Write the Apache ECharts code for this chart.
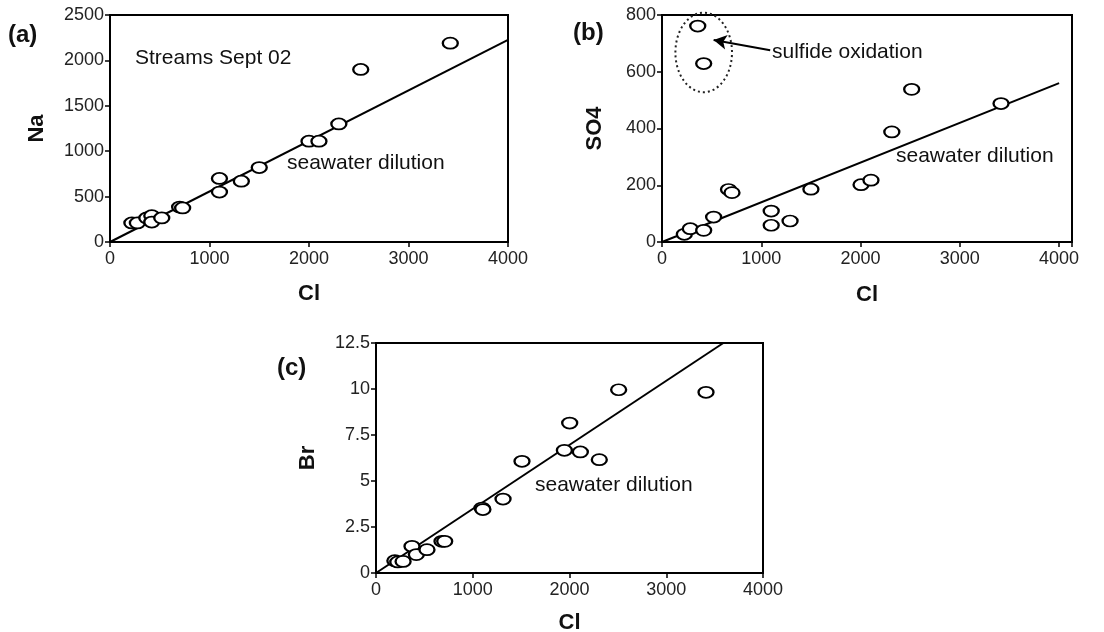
<!DOCTYPE html>
<html>
<head>
<meta charset="utf-8">
<script src="https://cdn.jsdelivr.net/npm/echarts@6/dist/echarts.min.js"></script>
<style>
  html, body { margin: 0; padding: 0; background: #fff; }
  #chart { width: 1104px; height: 632px; }
</style>
</head>
<body>
<div id="chart"></div>
<script>
// Cl vs Na (a), Cl vs SO4 (b), Cl vs Br (c) - streams Sept 02
var naPoints = [
  [220, 210], [275, 210], [370, 265], [420, 290], [420, 220], [520, 265],
  [700, 385], [730, 375], [1100, 700], [1100, 550], [1320, 670], [1500, 820],
  [2000, 1110], [2100, 1110], [2300, 1300], [2520, 1900], [3420, 2190]
];
var so4Points = [
  [225, 27], [285, 47], [420, 41], [520, 88], [670, 185], [705, 174],
  [1100, 109], [1100, 59], [1290, 74], [1500, 186], [2005, 202], [2105, 218],
  [2315, 388], [2515, 538], [3415, 488], [360, 761], [420, 629]
];
var brPoints = [
  [195, 0.67], [225, 0.6], [280, 0.63], [372, 1.45], [417, 1.0], [527, 1.27],
  [682, 1.72], [710, 1.72], [1096, 3.53], [1105, 3.45], [1313, 4.02], [1509, 6.07],
  [1947, 6.67], [2002, 8.15], [2112, 6.58], [2308, 6.16], [2508, 9.96], [3411, 9.82]
];
var seaNa = [[0, 0], [4000, 2225]];
var seaSO4 = [[0, 0], [4000, 560]];
var seaBr = [[0, 0], [3590, 12.5]];
var arrowTail = [1090, 676];
var arrowTip = [520, 712];
var oxidEllipse = { cl: 420, so4: 668, rCl: 285, rSO4: 140 };

var naTicks = [0, 2500, 500];
var so4Ticks = [0, 800, 200];
var brTicks = [0, 12.5, 2.5];

var font = "'Liberation Sans', Arial, sans-serif";

let chart = echarts.init(document.getElementById('chart'));

function xAx(idx, max, gap) {
  return {
    type: 'value', gridIndex: idx, min: 0, max: max, interval: 1000,
    name: 'Cl', nameLocation: 'middle', nameGap: gap,
    nameTextStyle: { color: '#111', fontSize: 22, fontWeight: 'bold', fontFamily: font },
    axisLine: { show: true, lineStyle: { color: '#000', width: 2 } },
    axisTick: { show: true, length: 5, lineStyle: { color: '#000', width: 1.5 } },
    splitLine: { show: false },
    axisLabel: {
      color: '#222', fontSize: 18, fontFamily: font, margin: 8,
      formatter: function (v) { return v % 1000 === 0 ? String(v) : ''; }
    }
  };
}
function yAx(idx, name, ticks, gap) {
  return {
    type: 'value', gridIndex: idx, min: ticks[0], max: ticks[1], interval: ticks[2],
    name: name, nameLocation: 'middle', nameGap: gap, nameRotate: 90,
    nameTextStyle: { color: '#111', fontSize: 22, fontWeight: 'bold', fontFamily: font },
    axisLine: { show: true, lineStyle: { color: '#000', width: 2 } },
    axisTick: { show: true, length: 5, lineStyle: { color: '#000', width: 1.5 } },
    splitLine: { show: false },
    axisLabel: {
      color: '#222', fontSize: 18, fontFamily: font, margin: 6,
      formatter: function (v) { return String(v); }
    }
  };
}
function pts(idx, data) {
  return {
    type: 'scatter', xAxisIndex: idx, yAxisIndex: idx, data: data,
    symbol: 'emptyCircle', symbolSize: [15, 11], z: 3,
    itemStyle: { color: '#000', borderColor: '#000', borderWidth: 2, opacity: 1 }
  };
}
function sea(idx, data) {
  return {
    type: 'line', xAxisIndex: idx, yAxisIndex: idx, data: data,
    symbol: 'none', lineStyle: { color: '#000', width: 2 }, z: 2, silent: true
  };
}
function label(x, y, txt, size, bold) {
  return {
    type: 'text', x: x, y: y,
    style: {
      text: txt, fill: '#111', font: (bold ? 'bold ' : '') + size + 'px ' + font,
      textVerticalAlign: 'middle'
    }
  };
}

var so4Line = sea(1, seaSO4);
so4Line.markLine = {
  silent: true, symbol: ['none', 'arrow'], symbolSize: [11, 13],
  lineStyle: { color: '#000', width: 2, type: 'solid' },
  label: { show: false },
  data: [[{ coord: arrowTail }, { coord: arrowTip }]]
};

function frame(left, top, width, height) {
  return {
    left: left, top: top, width: width, height: height,
    show: true, borderColor: '#000', borderWidth: 2,
    containLabel: false, outerBoundsMode: 'none'
  };
}

chart.setOption({
  animation: false,
  backgroundColor: '#fff',
  grid: [
    frame(110, 15, 398, 227),
    frame(662, 15, 410, 227),
    frame(376, 343, 387, 230)
  ],
  xAxis: [xAx(0, 4000, 41), xAx(1, 4130, 42), xAx(2, 4000, 39)],
  yAxis: [yAx(0, 'Na', naTicks, 62), yAx(1, 'SO4', so4Ticks, 56), yAx(2, 'Br', brTicks, 57)],
  series: [
    sea(0, seaNa), pts(0, naPoints),
    so4Line, pts(1, so4Points),
    sea(2, seaBr), pts(2, brPoints)
  ],
  graphic: [
    label(8, 35, '(a)', 24, true),
    label(573, 33, '(b)', 24, true),
    label(277, 368, '(c)', 24, true),
    label(135, 58, 'Streams Sept 02', 21, false),
    label(287, 163, 'seawater dilution', 21, false),
    label(772, 52, 'sulfide oxidation', 21, false),
    label(896, 156, 'seawater dilution', 21, false),
    label(535, 485, 'seawater dilution', 21, false)
  ]
});

// dotted ellipse round the sulfide oxidation points, placed via the axes
var c = chart.convertToPixel({ xAxisIndex: 1, yAxisIndex: 1 }, [oxidEllipse.cl, oxidEllipse.so4]);
var e = chart.convertToPixel({ xAxisIndex: 1, yAxisIndex: 1 },
  [oxidEllipse.cl + oxidEllipse.rCl, oxidEllipse.so4 + oxidEllipse.rSO4]);
var opt = chart.getOption();
var g = opt.graphic[0].elements.slice();
g.push({
  type: 'ellipse',
  shape: { cx: c[0], cy: c[1], rx: e[0] - c[0], ry: c[1] - e[1] },
  style: { fill: 'none', stroke: '#222', lineWidth: 2, lineDash: [2, 3] },
  z: 5
});
chart.setOption({ graphic: g }, { replaceMerge: ['graphic'] });
</script>
</body>
</html>
